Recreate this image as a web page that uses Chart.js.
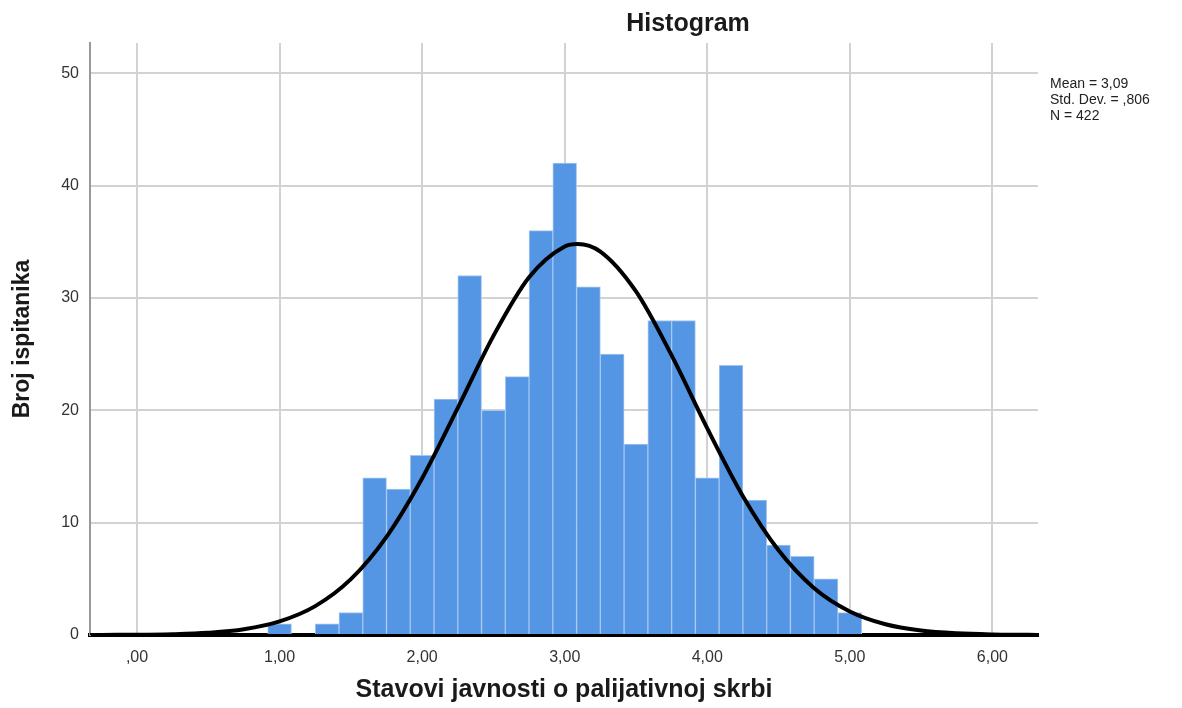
<!DOCTYPE html>
<html>
<head>
<meta charset="utf-8">
<script src="https://cdn.jsdelivr.net/npm/chart.js@4"></script>
<style>
  body { margin: 0; background: #fff; }
  #wrap { width: 1182px; height: 708px; }
</style>
</head>
<body>
<div id="wrap"><canvas id="hist"></canvas></div>
<script>
// -------------------- Data --------------------
const binCenters = [1.0000, 1.1667, 1.3333, 1.5000, 1.6667, 1.8333, 2.0000, 2.1667, 2.3333, 2.5000,
                    2.6667, 2.8333, 3.0000, 3.1667, 3.3333, 3.5000, 3.6667, 3.8333, 4.0000, 4.1667,
                    4.3333, 4.5000, 4.6667, 4.8333, 5.0000];
const counts = [1, 0, 1, 2, 14, 13, 16, 21, 32, 20, 23, 36, 42, 31, 25, 17, 28, 28, 14, 24, 12, 8, 7, 5, 2];

// normal curve
const curveX = [-0.33, -0.25, 0, 0.25, 0.5, 0.75, 1, 1.25, 1.5, 1.75, 2, 2.25, 2.5, 2.75, 3, 3.09,
                3.25, 3.5, 3.75, 4, 4.25, 4.5, 4.75, 5, 5.25, 5.5, 5.75, 6, 6.25, 6.32];
const curveY = [0.00, 0.01, 0.02, 0.07, 0.20, 0.51, 1.21, 2.57, 4.97, 8.74, 13.95, 20.22, 26.63, 31.85, 34.59, 34.81,
                34.13, 30.58, 24.89, 18.40, 12.36, 7.54, 4.17, 2.10, 0.96, 0.40, 0.15, 0.05, 0.02, 0.01];

const xTicks = [0, 1, 2, 3, 4, 5, 6];
const xTickLabels = [',00', '1,00', '2,00', '3,00', '4,00', '5,00', '6,00'];
const yTicks = [0, 10, 20, 30, 40, 50];

const chartTitle = 'Histogram';
const statsLines = ['Mean = 3,09', 'Std. Dev. = ,806', 'N = 422'];

const FONT = "'Liberation Sans', Arial, sans-serif";

// -------------------- Extra text (title + stats box) --------------------
const textPlugin = {
    id: 'textPlugin',
    afterDraw(chart) {
        const ctx = chart.ctx;
        const area = chart.chartArea;
        ctx.save();
        ctx.fillStyle = '#1a1a1a';
        ctx.font = 'bold 25px ' + FONT;
        ctx.textAlign = 'center';
        ctx.textBaseline = 'middle';
        ctx.fillText(chartTitle, area.right - 350, 24);

        ctx.font = '14px ' + FONT;
        ctx.textAlign = 'left';
        ctx.fillStyle = '#222';
        statsLines.forEach((line, i) => ctx.fillText(line, area.right + 12, 84 + i * 16));
        ctx.restore();
    }
};

// -------------------- Chart --------------------
new Chart(document.getElementById('hist'), {
    type: 'bar',
    data: {
        datasets: [
            {
                type: 'line',
                data: curveX.map((x, i) => ({ x: x, y: curveY[i] })),
                borderColor: '#000',
                borderWidth: 4,
                pointRadius: 0,
                fill: false,
                cubicInterpolationMode: 'monotone',
                order: 0
            },
            {
                type: 'bar',
                data: binCenters.map((x, i) => ({ x: x, y: counts[i] })),
                backgroundColor: '#5495e4',
                borderColor: '#a3c6f0',
                borderWidth: 1,
                borderSkipped: 'start',
                barPercentage: 1.0,
                categoryPercentage: 1.0,
                order: 1
            }
        ]
    },
    options: {
        responsive: true,
        maintainAspectRatio: false,
        animation: false,
        layout: { padding: { left: 0, top: 43, right: 144, bottom: 0 } },
        plugins: { legend: { display: false }, tooltip: { enabled: false }, title: { display: false } },
        scales: {
            x: {
                type: 'linear',
                offset: false,
                min: -0.33,
                max: 6.32,
                afterBuildTicks: s => { s.ticks = xTicks.map(v => ({ value: v })); },
                afterFit: s => { s.height = 73; },
                ticks: {
                    padding: 13,
                    color: '#333',
                    font: { family: FONT, size: 16 },
                    callback: (v) => xTickLabels[xTicks.indexOf(v)]
                },
                grid: { offset: false, color: '#d2d2d2', lineWidth: 2, drawTicks: false },
                border: { color: '#000', width: 4 },
                title: {
                    display: true,
                    text: 'Stavovi javnosti o palijativnoj skrbi',
                    color: '#1a1a1a',
                    font: { family: FONT, size: 25, weight: 'bold' },
                    padding: { top: 0, bottom: 3 }
                }
            },
            y: {
                min: 0,
                max: 52.7,
                afterBuildTicks: s => { s.ticks = yTicks.map(v => ({ value: v })); },
                afterFit: s => { s.width = 90; },
                ticks: {
                    padding: 11,
                    color: '#333',
                    font: { family: FONT, size: 16 }
                },
                grid: { color: '#d2d2d2', lineWidth: 2, drawTicks: false },
                border: { color: '#999', width: 2 },
                title: {
                    display: true,
                    text: 'Broj ispitanika',
                    color: '#1a1a1a',
                    font: { family: FONT, size: 23, weight: 'bold' },
                    padding: { top: 9, bottom: 0 }
                }
            }
        }
    },
    plugins: [textPlugin]
});
</script>
</body>
</html>
